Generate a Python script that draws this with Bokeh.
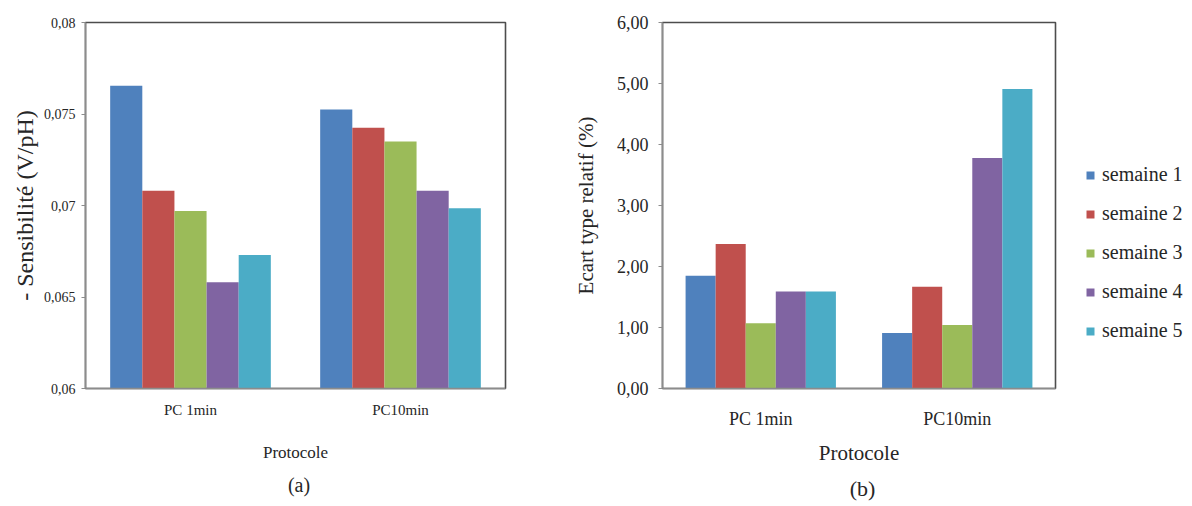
from bokeh.plotting import figure
from bokeh.models import FactorRange, Range1d, FixedTicker, Legend, LegendItem, Title
from bokeh.layouts import row
from bokeh.transform import dodge
from bokeh.embed import file_html
from bokeh.resources import INLINE

# ---------------- data ----------------
protocols = ["PC 1min", "PC10min"]
series_names = ["semaine 1", "semaine 2", "semaine 3", "semaine 4", "semaine 5"]

# (a) - Sensibilite (V/pH)
sens_semaine1 = [0.07655, 0.07525]
sens_semaine2 = [0.0708, 0.07425]
sens_semaine3 = [0.0697, 0.0735]
sens_semaine4 = [0.0658, 0.0708]
sens_semaine5 = [0.0673, 0.06985]

# (b) Ecart type relatif (%)
rsd_semaine1 = [1.85, 0.91]
rsd_semaine2 = [2.37, 1.67]
rsd_semaine3 = [1.07, 1.04]
rsd_semaine4 = [1.59, 3.78]
rsd_semaine5 = [1.59, 4.91]

sens_ticks = [0.06, 0.065, 0.07, 0.075, 0.08]
sens_tick_labels = ["0,06", "0,065", "0,07", "0,075", "0,08"]
rsd_ticks = [0, 1, 2, 3, 4, 5, 6]
rsd_tick_labels = ["0,00", "1,00", "2,00", "3,00", "4,00", "5,00", "6,00"]

colors = ["#4F81BD", "#C0504D", "#9BBB59", "#8064A2", "#4BACC6"]

FONT = "Liberation Serif"
TXT = "#262626"
AXIS = "#8c8c8c"
FRAME = "#4d4d4d"
BW = 0.153


def style(p, tick_size, label_size, ylabel_size, xlabel_size):
    p.outline_line_color = FRAME
    p.outline_line_width = 1.6
    p.xgrid.visible = False
    p.ygrid.visible = False
    for ax in (p.xaxis, p.yaxis):
        ax.axis_line_color = AXIS
        ax.axis_line_width = 1.5
        ax.major_label_text_font = FONT
        ax.axis_label_text_font = FONT
        ax.axis_label_text_font_style = "normal"
        ax.major_label_text_color = TXT
        ax.axis_label_text_color = TXT
        ax.minor_tick_line_color = None
    p.xaxis.major_tick_line_color = None
    p.yaxis.major_tick_line_color = AXIS
    p.yaxis.major_tick_out = 4
    p.yaxis.major_tick_in = 0
    p.yaxis.major_label_text_font_size = tick_size
    p.xaxis.major_label_text_font_size = label_size
    p.yaxis.axis_label_text_font_size = ylabel_size
    p.xaxis.axis_label_text_font_size = xlabel_size


# ---------------- (a) ----------------
p1 = figure(x_range=FactorRange(*protocols), y_range=Range1d(0.06, 0.08),
            frame_width=420, frame_height=366, output_backend="svg", toolbar_location=None,
            min_border_left=85, min_border_right=55, min_border_top=22, min_border_bottom=0)
sens_all = [sens_semaine1, sens_semaine2, sens_semaine3, sens_semaine4, sens_semaine5]
for i, vals in enumerate(sens_all):
    src = {"x": protocols, "y": vals}
    p1.vbar(x=dodge("x", (i - 2) * BW, range=p1.x_range), top="y", bottom=0.06,
            width=BW, source=src, fill_color=colors[i], line_color=None)
p1.yaxis.ticker = FixedTicker(ticks=sens_ticks)
p1.yaxis.major_label_overrides = dict(zip(sens_ticks, sens_tick_labels))
p1.yaxis.axis_label = "- Sensibilité (V/pH)"
p1.xaxis.axis_label = "Protocole"
style(p1, "14px", "15px", "24px", "17px")
p1.yaxis.major_label_standoff = 6
p1.yaxis.axis_label_standoff = 3
p1.xaxis.major_label_standoff = 7
p1.xaxis.axis_label_standoff = 22
p1.add_layout(Title(text="(a)", align="center", text_font=FONT, text_font_size="20px",
                    text_font_style="normal", text_color=TXT, standoff=14,
                    padding=(7, 0, 0, 0)), "below")

# ---------------- (b) ----------------
p2 = figure(x_range=FactorRange(*protocols), y_range=Range1d(0, 6),
            frame_width=393, frame_height=366, output_backend="svg", toolbar_location=None,
            min_border_left=102, min_border_right=137, min_border_top=22, min_border_bottom=0)
rsd_all = [rsd_semaine1, rsd_semaine2, rsd_semaine3, rsd_semaine4, rsd_semaine5]
renderers = []
for i, vals in enumerate(rsd_all):
    src = {"x": protocols, "y": vals}
    r = p2.vbar(x=dodge("x", (i - 2) * BW, range=p2.x_range), top="y", bottom=0,
                width=BW, source=src, fill_color=colors[i], line_color=None)
    renderers.append(r)
p2.yaxis.ticker = FixedTicker(ticks=rsd_ticks)
p2.yaxis.major_label_overrides = dict(zip(rsd_ticks, rsd_tick_labels))
p2.yaxis.axis_label = "Ecart type relatif (%)"
p2.xaxis.axis_label = "Protocole"
style(p2, "18px", "18px", "21px", "21px")
p2.yaxis.major_label_standoff = 10
p2.yaxis.axis_label_standoff = 16
p2.xaxis.major_label_standoff = 14
p2.xaxis.axis_label_standoff = 9
p2.add_layout(Title(text="(b)", align="center", text_font=FONT, text_font_size="22px",
                    text_font_style="normal", text_color=TXT, standoff=12,
                    padding=(7, 0, 0, 0)), "below")

legend = Legend(items=[LegendItem(label=n, renderers=[r]) for n, r in zip(series_names, renderers)],
                location=(30, 46), glyph_width=10, glyph_height=10, label_height=22,
                spacing=16, label_standoff=7, padding=3, margin=0,
                label_text_font=FONT, label_text_font_size="20px", label_text_color=TXT,
                border_line_color=None, background_fill_alpha=0)
p2.add_layout(legend, "right")

layout = row(p1, p2)
open("out.html", "w").write(file_html(layout, INLINE))
